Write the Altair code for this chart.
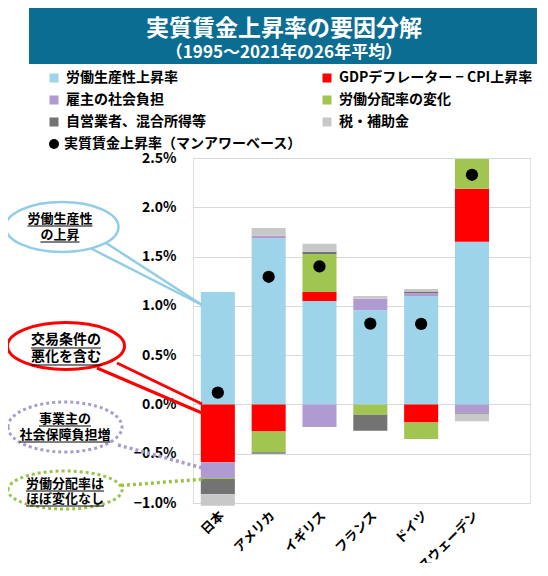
import altair as alt
import pandas as pd

countries = ["日本", "アメリカ", "イギリス", "フランス", "ドイツ", "スウェーデン"]
series = ["労働生産性上昇率", "GDPデフレーター − CPI上昇率", "雇主の社会負担",
          "労働分配率の変化", "自営業者、混合所得等", "税・補助金"]
colors = ["#9dd4ea", "#ff0000", "#b09ad2", "#a0c550", "#737373", "#c8c8c8"]
# legend is filled column by column: left column first, then right column
legend_order = [0, 2, 4, 1, 3, 5]

productivity = [1.14, 1.686, 1.05, 0.956, 1.099, 1.651]
gdp_cpi = [-0.587, -0.275, 0.09, 0.0, -0.183, 0.536]
employer = [-0.16, 0.026, -0.23, 0.115, 0.03, -0.085]
labor_share = [-0.01, -0.21, 0.386, -0.105, -0.167, 0.303]
self_emp = [-0.155, -0.015, 0.023, -0.163, 0.017, -0.01]
tax = [-0.115, 0.078, 0.082, 0.028, 0.024, -0.075]
real_wage = [0.12, 1.295, 1.40, 0.82, 0.817, 2.33]
dot_label = "実質賃金上昇率（マンアワーベース）"

rows = []
for si, vals in enumerate([productivity, gdp_cpi, employer, labor_share, self_emp, tax]):
    for c, v in zip(countries, vals):
        rows.append({"country": c, "series": series[si], "order": si, "value": v})
df = pd.DataFrame(rows)
dots = pd.DataFrame({"country": countries, "value": real_wage, "lab": [dot_label] * 6})

FONT = "Noto Sans CJK JP"

xenc = alt.X("country:N", sort=countries,
             scale=alt.Scale(paddingInner=0.33, paddingOuter=0.48, align=0.16),
             axis=alt.Axis(title=None, domain=False, ticks=False, labelAngle=-45,
                           labelAlign="right", labelBaseline="top", labelPadding=6,
                           labelFontSize=13, labelFontWeight="bold", labelColor="black",
                           labelFont=FONT))
yscale = alt.Scale(domain=[-1.0, 2.5], nice=False, zero=False)
yaxis = alt.Axis(title=None, domain=False, ticks=False,
                 values=[-1.0, -0.5, 0.0, 0.5, 1.0, 1.5, 2.0, 2.5],
                 labelExpr="format(datum.value, '.1f') + '%'",
                 labelFontSize=14, labelFontWeight="bold", labelColor="black",
                 labelPadding=17, labelFont=FONT,
                 gridColor="#d9d9d9", gridWidth=1.2)

bars = alt.Chart(df).mark_bar().encode(
    x=xenc,
    y=alt.Y("value:Q", stack="zero", scale=yscale, axis=yaxis),
    color=alt.Color("series:N",
                    scale=alt.Scale(domain=[series[i] for i in legend_order],
                                    range=[colors[i] for i in legend_order]),
                    legend=alt.Legend(title=None, orient="none", legendX=-146, legendY=-87,
                                      columns=2, symbolType="square", symbolSize=81,
                                      symbolStrokeWidth=0, labelOffset=5,
                                      labelFontSize=14, labelFontWeight="bold",
                                      labelColor="black", labelFont=FONT,
                                      rowPadding=8, columnPadding=114, labelLimit=400)),
    order=alt.Order("order:Q", sort="ascending"),
)

points = alt.Chart(dots).mark_point(filled=True, color="black", opacity=1).encode(
    x=alt.X("country:N", sort=countries),
    y=alt.Y("value:Q"),
    shape=alt.Shape("lab:N", scale=alt.Scale(domain=[dot_label], range=["circle"]),
                    legend=alt.Legend(title=None, orient="none", legendX=-146, legendY=-21,
                                      symbolType="circle", symbolSize=100,
                                      symbolFillColor="black", symbolStrokeWidth=0,
                                      labelOffset=3, labelFontSize=14,
                                      labelFontWeight="bold", labelColor="black",
                                      labelFont=FONT, labelLimit=400)),
    size=alt.value(150),
)

one = alt.Data(values=[{"k": 0}])


def text(t, x, y, size=13, color="black"):
    return alt.Chart(one).mark_text(text=t, fontSize=size, fontWeight="bold", font=FONT,
                                    color=color, align="center", baseline="middle").encode(
        x=alt.value(x), y=alt.value(y))


def seg(x1, y1, x2, y2, color, width=2.5, dash=None):
    kw = dict(color=color, strokeWidth=width)
    if dash:
        kw["strokeDash"] = dash
    return alt.Chart(one).mark_rule(**kw).encode(
        x=alt.value(x1), y=alt.value(y1), x2=alt.value(x2), y2=alt.value(y2))


def ellipse(cx, cy, w, h, color, width=2.5, dash=None):
    r = h / w
    k = 0.5523
    p = (f"M -1 0 C -1 {-r*k:.4f} {-k} {-r:.4f} 0 {-r:.4f} "
         f"C {k} {-r:.4f} 1 {-r*k:.4f} 1 0 "
         f"C 1 {r*k:.4f} {k} {r:.4f} 0 {r:.4f} "
         f"C {-k} {r:.4f} -1 {r*k:.4f} -1 0 Z")
    kw = dict(shape=p, size=w * w, filled=True, fill="white", fillOpacity=1,
              stroke=color, strokeWidth=width, opacity=1)
    if dash:
        kw["strokeDash"] = dash
    return alt.Chart(one).mark_point(**kw).encode(x=alt.value(cx), y=alt.value(cy))


def underline(cx, y, n, size):
    w = n * size
    return seg(cx - w / 2, y, cx + w / 2, y, "black", 1.2)


banner = alt.Chart(one).mark_rect(color="#0b6d92").encode(
    x=alt.value(-164), x2=alt.value(344), y=alt.value(-155), y2=alt.value(-94))

blue_c = "#92cde5"
red_c = "#ff0000"
pur_c = "#a99bcf"
grn_c = "#9dc34c"

annotations = [
    banner,
    text("実質賃金上昇率の要因分解", 91, -129, 23, "white"),
    text("（1995～2021年の26年平均）", 91, -105, 17, "white"),
    # blue callout
    seg(-90, 83, 9, 147, blue_c, 2.5),
    seg(-103, 90, 9, 147, blue_c, 2.5),
    ellipse(-131, 69, 113, 50, blue_c, 2.5),
    text("労働生産性", -133, 61), underline(-133, 68, 5, 13),
    text("の上昇", -133, 77), underline(-133, 84, 3, 13),
    # red callout
    seg(-76, 205, 9, 246, red_c, 3),
    seg(-96, 210, 9, 255, red_c, 3),
    ellipse(-127, 188, 117, 47, red_c, 3),
    text("交易条件の", -127, 182, 14), underline(-127, 190, 5, 14),
    text("悪化を含む", -127, 199, 14), underline(-127, 207, 5, 14),
    # purple callout
    seg(-75, 287, 17, 312, pur_c, 3.5, [3, 3]),
    ellipse(-128, 269, 114, 50, pur_c, 3, [3, 3]),
    text("事業主の", -128, 261), underline(-128, 268, 4, 13),
    text("社会保障負担増", -128, 277), underline(-128, 284, 7, 13),
    # green callout
    seg(-78, 328, 12, 321, grn_c, 3.5, [3, 3]),
    ellipse(-128, 332, 114, 38, grn_c, 3, [3, 3]),
    text("労働分配率は", -128, 326), underline(-128, 333, 6, 13),
    text("ほぼ変化なし", -128, 341), underline(-128, 348, 6, 13),
]

chart = alt.layer(bars, points, *annotations).properties(
    width=337, height=345,
    padding={"left": 185, "top": 150, "right": 10, "bottom": 60},
    autosize=alt.AutoSizeParams(type="none"),
).configure_view(stroke=None).configure(font=FONT)

chart.save("out.html", embed_options={"renderer": "svg", "actions": False})
